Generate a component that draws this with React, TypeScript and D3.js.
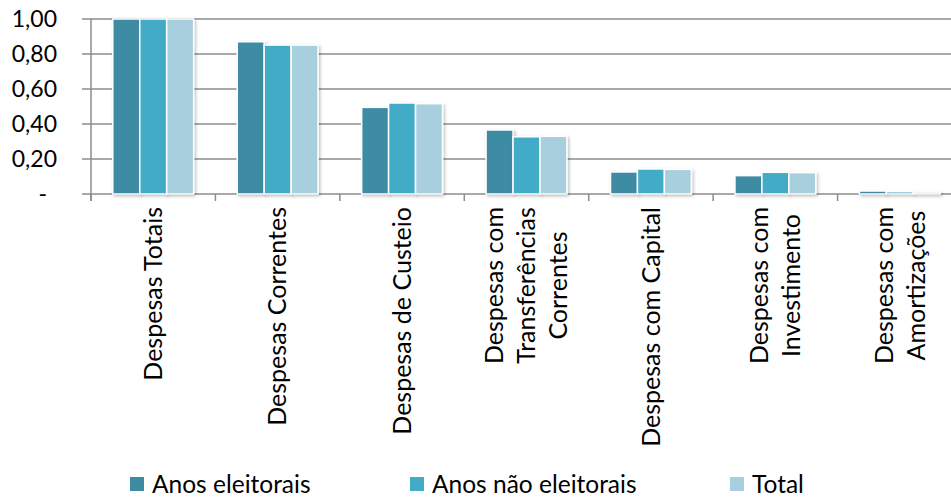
import React, { useRef, useEffect } from "react";
import * as d3 from "d3";

const categories = [
  ["Despesas Totais"],
  ["Despesas Correntes"],
  ["Despesas de Custeio"],
  ["Despesas com", "Transferências", "Correntes"],
  ["Despesas com Capital"],
  ["Despesas com", "Investimento"],
  ["Despesas com", "Amortizações"],
];
const seriesNames = ["Anos eleitorais", "Anos não eleitorais", "Total"];
const eleitorais = [1.0, 0.87, 0.495, 0.366, 0.126, 0.105, 0.017];
const naoEleitorais = [1.0, 0.851, 0.52, 0.327, 0.143, 0.124, 0.013];
const total = [1.0, 0.851, 0.516, 0.33, 0.141, 0.122, 0.011];
const yTicks = [0, 0.2, 0.4, 0.6, 0.8, 1.0];
const colors = ["#3c8ca4", "#42acc8", "#a8cfdd"];

const W = 951;
const H = 497;
const FONT = "Lato, 'Open Sans', sans-serif";

const App = () => {
  const ref = useRef<SVGSVGElement>(null);

  useEffect(() => {
    if (!ref.current) return;
    const svg = d3.select(ref.current);
    svg.selectAll("*").remove();

    const values = [eleitorais, naoEleitorais, total];
    const keys = categories.map((c) => c.join(" "));

    const x = d3.scaleBand().domain(keys).range([91, 962]);
    const xs = d3
      .scaleBand()
      .domain(seriesNames)
      .range([21.8, x.bandwidth() - 21.8]);
    const y = d3.scaleLinear().domain([0, 1]).range([194, 19]);

    // soft shadow under the bars
    const defs = svg.append("defs");
    const f = defs
      .append("filter")
      .attr("id", "shadow")
      .attr("x", "-20%")
      .attr("y", "-20%")
      .attr("width", "140%")
      .attr("height", "140%");
    f.append("feDropShadow")
      .attr("dx", 1.5)
      .attr("dy", 1.5)
      .attr("stdDeviation", 1.5)
      .attr("flood-color", "#000")
      .attr("flood-opacity", 0.25);

    // gridlines
    svg
      .append("g")
      .selectAll("line")
      .data(yTicks)
      .enter()
      .append("line")
      .attr("x1", 82)
      .attr("x2", W)
      .attr("y1", (d) => y(d))
      .attr("y2", (d) => y(d))
      .attr("stroke", "#8c8c8c")
      .attr("stroke-width", 1.5);

    // y axis line
    svg
      .append("line")
      .attr("x1", 91)
      .attr("x2", 91)
      .attr("y1", y(1))
      .attr("y2", 201)
      .attr("stroke", "#8c8c8c")
      .attr("stroke-width", 1.5);

    // category ticks
    svg
      .append("g")
      .selectAll("line")
      .data(keys)
      .enter()
      .append("line")
      .attr("x1", (d) => x(d) ?? 0)
      .attr("x2", (d) => x(d) ?? 0)
      .attr("y1", 194)
      .attr("y2", 201)
      .attr("stroke", "#8c8c8c")
      .attr("stroke-width", 1.5);

    // y labels
    svg
      .append("g")
      .selectAll("text")
      .data(yTicks)
      .enter()
      .append("text")
      .attr("x", (d) => (d === 0 ? 47 : 57))
      .attr("y", (d) => y(d))
      .attr("dy", "0.35em")
      .attr("text-anchor", "end")
      .attr("font-family", FONT)
      .attr("font-size", "23px")
      .attr("fill", "#000")
      .text((d) => (d === 0 ? "-" : d3.format(".2f")(d).replace(".", ",")));

    // bars
    seriesNames.forEach((s, si) => {
      svg
        .append("g")
        .attr("filter", "url(#shadow)")
        .selectAll("rect")
        .data(values[si])
        .enter()
        .append("rect")
        .attr("x", (_, i) => (x(keys[i]) ?? 0) + (xs(s) ?? 0))
        .attr("width", xs.bandwidth())
        .attr("y", (d) => y(d))
        .attr("height", (d) => y(0) - y(d))
        .attr("fill", colors[si])
        .attr("stroke", "#fff")
        .attr("stroke-width", 1.5);
    });

    // category labels (rotated, lines centered, block top at axis)
    const lineGap = 32;
    categories.forEach((lines, ci) => {
      const cx = (x(keys[ci]) ?? 0) + x.bandwidth() / 2;
      const g = svg
        .append("g")
        .attr("transform", `translate(${cx},207) rotate(-90)`);
      const texts = g
        .selectAll("text")
        .data(lines)
        .enter()
        .append("text")
        .attr("y", (_, i) => (i - (lines.length - 1) / 2) * lineGap)
        .attr("dy", "0.35em")
        .attr("text-anchor", "middle")
        .attr("font-family", FONT)
        .attr("font-size", "25px")
        .attr("fill", "#000")
        .text((d) => d);
      let maxLen = 0;
      texts.each(function () {
        maxLen = Math.max(maxLen, (this as SVGTextElement).getComputedTextLength());
      });
      texts.attr("x", -maxLen / 2);
    });

    // legend
    const legendX = [130, 410, 730];
    const lg = svg
      .append("g")
      .selectAll("g")
      .data(seriesNames)
      .enter()
      .append("g")
      .attr("transform", (_, i) => `translate(${legendX[i]},477)`);
    lg.append("rect")
      .attr("width", 14)
      .attr("height", 14)
      .attr("fill", (_, i) => colors[i]);
    lg.append("text")
      .attr("x", 22)
      .attr("y", 7)
      .attr("dy", "0.35em")
      .attr("font-family", FONT)
      .attr("font-size", "24.5px")
      .attr("fill", "#000")
      .text((d) => d);
  }, []);

  return (
    <svg
      ref={ref}
      width={W}
      height={H}
      style={{ position: "absolute", left: 0, top: 0, background: "#fff" }}
    />
  );
};

export default App;
